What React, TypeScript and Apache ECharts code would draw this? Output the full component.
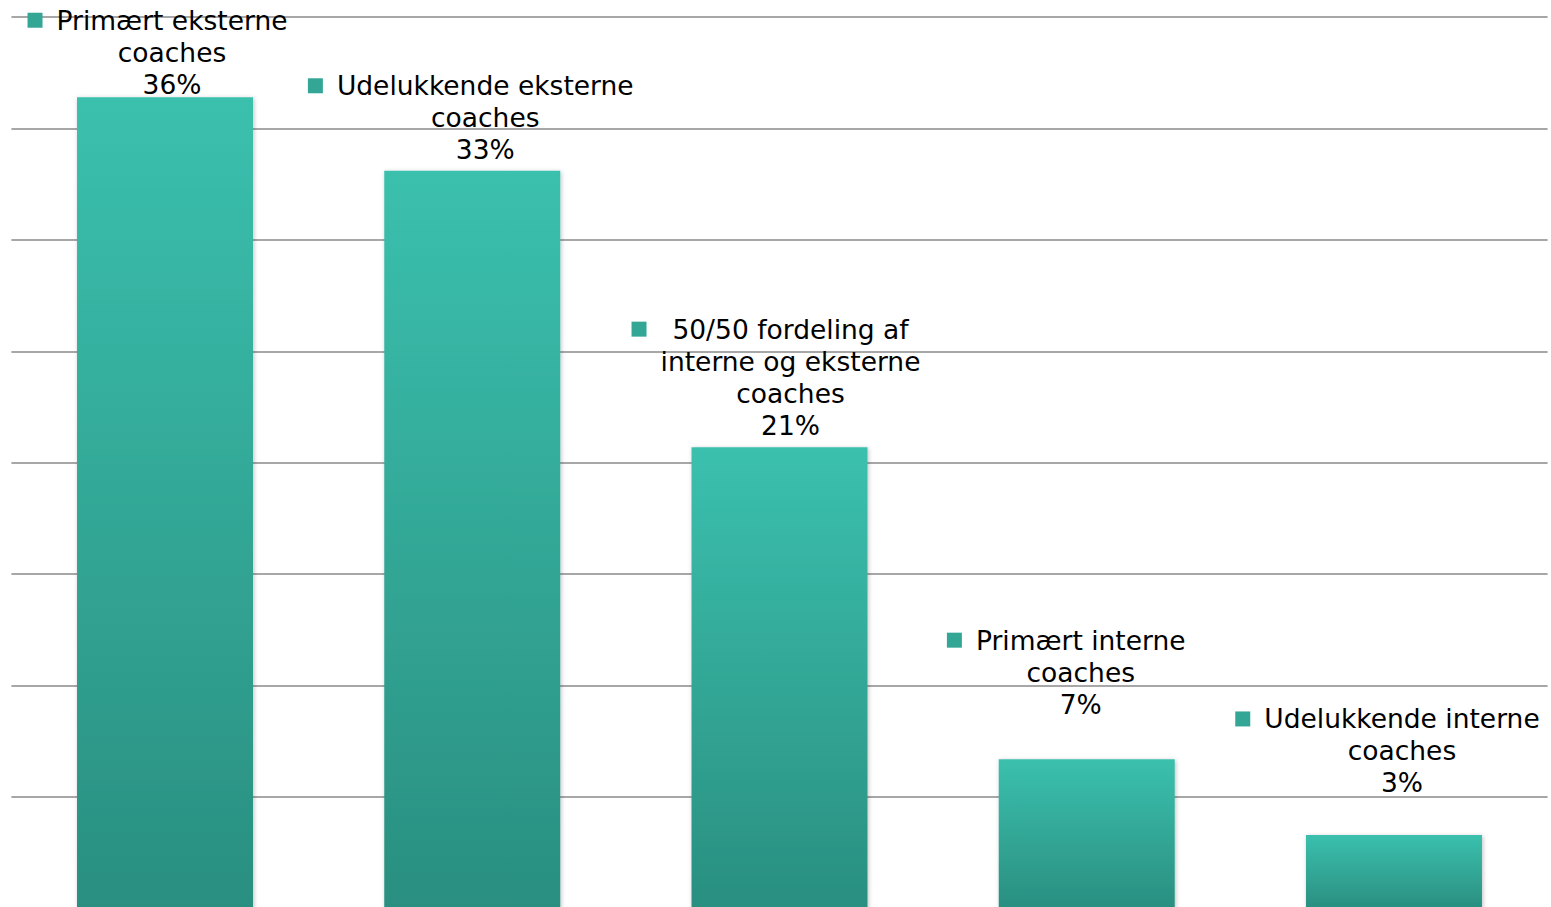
import React, { useEffect, useRef } from "react";
import * as echarts from "echarts";

const categories = [
  "Primært eksterne\ncoaches",
  "Udelukkende eksterne\ncoaches",
  "50/50 fordeling af\ninterne og eksterne\ncoaches",
  "Primært interne\ncoaches",
  "Udelukkende interne\ncoaches",
];
const values = [36.4, 33.1, 20.7, 6.7, 3.3];
const yTicks = [0, 5, 10, 15, 20, 25, 30, 35, 40];

// label styling: extra lift above each bar and horizontal shift (px)
const labelLift = [0, 8, 9, 42, 39];
const labelShift = [7, 13, 11, -6, 8];

const FONT = '"DejaVu Sans", Verdana, sans-serif';
const FONT_SIZE = 26.5;

export default function App() {
  const ref = useRef<HTMLDivElement>(null);
  useEffect(() => {
    if (!ref.current) return;
    const chart = echarts.init(ref.current, null, { renderer: "svg" });

    const canvas = document.createElement("canvas");
    const ctx = canvas.getContext("2d")!;
    ctx.font = `${FONT_SIZE}px "DejaVu Sans"`;

    const rich: any = {
      m: { width: 15, height: 15, backgroundColor: "#33a696" },
      t: { fontSize: FONT_SIZE, fontFamily: FONT, color: "#000", lineHeight: 32 },
    };
    const formatters: string[] = categories.map((c, i) => {
      const lines = c.split("\n");
      const widths = lines.map((l) => ctx.measureText(l).width);
      const maxW = Math.max(...widths);
      const gap = (maxW - widths[0]) / 2 + 14;
      rich["g" + i] = { width: gap, height: 15 };
      rich["s" + i] = { width: gap + 15, height: 15 };
      const first = `{m|}{g${i}|}{t|${lines[0]}}{s${i}|}`;
      const rest = lines.slice(1).map((l) => `{t|${l}}`);
      return [first, ...rest, `{t|${Math.round(values[i])}%}`].join("\n");
    });

    const data = values.map((v, i) => ({
      value: v,
      label: {
        distance: -3 + labelLift[i],
        offset: [labelShift[i], 0],
        formatter: formatters[i],
      },
    }));

    chart.setOption({
      animation: false,
      grid: { left: 11.4, right: 3.4, top: 17, bottom: 3.5, containLabel: false },
      xAxis: {
        type: "category",
        data: categories,
        show: false,
      },
      yAxis: {
        type: "value",
        min: yTicks[0],
        max: yTicks[yTicks.length - 1],
        interval: yTicks[1] - yTicks[0],
        axisLabel: { show: false },
        axisLine: { show: false },
        axisTick: { show: false },
        splitLine: { show: true, lineStyle: { color: "#8a8a8a", width: 1.5 } },
      },
      series: [
        {
          type: "bar",
          data,
          barWidth: 176,
          itemStyle: {
            color: new echarts.graphic.LinearGradient(0, 0, 0, 1, [
              { offset: 0, color: "#3bc0ae" },
              { offset: 1, color: "#2a8f80" },
            ]),
            shadowBlur: 4,
            shadowColor: "rgba(0,0,0,0.25)",
            shadowOffsetX: 1,
            shadowOffsetY: 1,
          },
          label: {
            show: true,
            position: "top",
            fontFamily: FONT,
            fontSize: FONT_SIZE,
            lineHeight: 32,
            color: "#000",
            rich,
          },
        },
      ],
    });
    return () => chart.dispose();
  }, []);
  return (
    <div
      ref={ref}
      style={{ position: "fixed", left: 0, top: 0, width: 1551, height: 912, background: "#fff" }}
    />
  );
}
